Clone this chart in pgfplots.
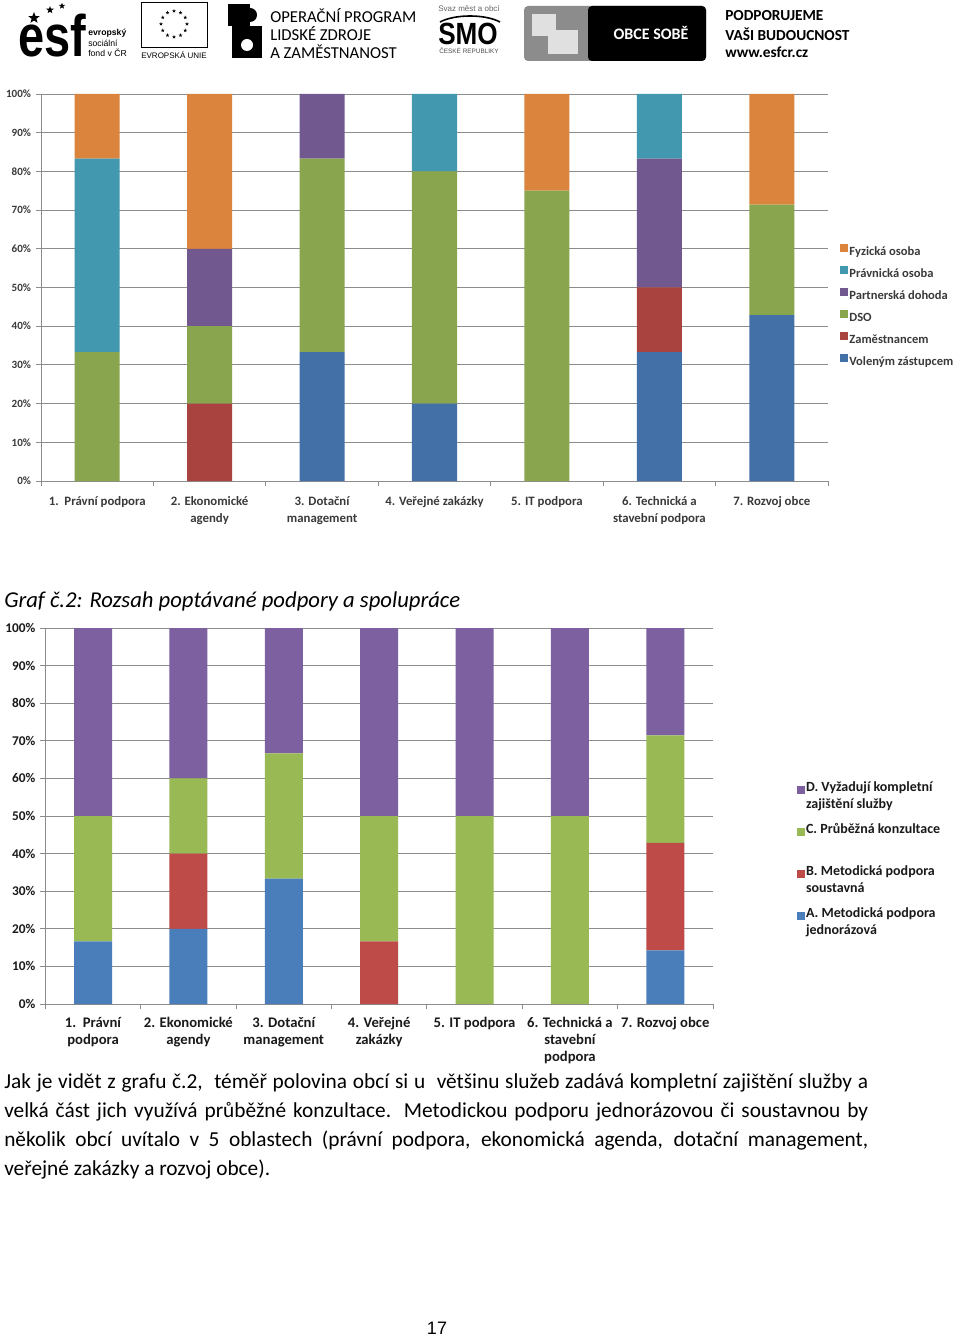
\documentclass[border=0pt]{standalone}
\usepackage{pgfplots}
\pgfplotsset{compat=1.18}
\usepackage{pgfplotstable}
\usetikzlibrary{shapes.geometric}
\usepackage{fontspec}
\setmainfont{Carlito}
\newfontfamily\arial{Liberation Sans}
\definecolor{aBlue}{HTML}{4470A8}
\definecolor{aRed}{HTML}{A9433F}
\definecolor{aGreen}{HTML}{89A54E}
\definecolor{aPurple}{HTML}{71588F}
\definecolor{aTeal}{HTML}{4198AF}
\definecolor{aOrange}{HTML}{DB843D}
\definecolor{bBlue}{HTML}{4A7EBB}
\definecolor{bRed}{HTML}{BE4B48}
\definecolor{bGreen}{HTML}{98B954}
\definecolor{bPurple}{HTML}{7D60A0}
\definecolor{gridgray}{HTML}{8C8C8C}
\definecolor{labA}{HTML}{3A3A3A}
\definecolor{labB}{HTML}{1A1A1A}

\pgfplotstableread{
x vol zam dso part prav fyz
0 0 0 33.33 0 50 16.67
1 0 20 20 20 0 40
2 33.33 0 50 16.67 0 0
3 20 0 60 0 20 0
4 0 0 75 0 0 25
5 33.33 16.67 0 33.33 16.67 0
6 42.86 0 28.57 0 0 28.57
}\dataA

\pgfplotstableread{
x a b c d
0 16.67 0 33.33 50
1 20 20 20 40
2 33.33 0 33.33 33.34
3 0 16.67 33.33 50
4 0 0 50 50
5 0 0 50 50
6 14.29 28.57 28.57 28.57
}\dataB

\begin{document}
\begin{tikzpicture}
\path[use as bounding box] (0,0) rectangle (720pt,-1002.75pt);
\fill[white] (0,0) rectangle (720pt,-1002.75pt);

% ---------------- header (logos) ----------------
\begin{scope}[x=0.75pt,y=-0.75pt]
  % esf
  \node[anchor=base west, inner sep=0pt] at (18,57) {\scalebox{0.8}[1]{\arial\bfseries\fontsize{44}{44}\selectfont esf}};
  \node[star, star points=5, star point ratio=2.4, fill=black, inner sep=0pt, minimum size=9pt] at (34,18) {};
  \node[star, star points=5, star point ratio=2.4, fill=black, inner sep=0pt, minimum size=6pt] at (50,10) {};
  \node[star, star points=5, star point ratio=2.4, fill=black, inner sep=0pt, minimum size=5pt] at (62,6) {};
  \node[anchor=west, inner sep=0pt, font=\arial\bfseries\fontsize{6.5}{7}\selectfont] at (88,33) {evropský};
  \node[anchor=west, inner sep=0pt, font=\arial\fontsize{6.5}{7}\selectfont] at (88,43) {sociální};
  \node[anchor=west, inner sep=0pt, font=\arial\fontsize{6.5}{7}\selectfont] at (88,53) {fond v ČR};
  % EU
  \draw[line width=0.6pt] (141,2) rectangle (207,47);
  \foreach \a in {0,30,...,330}
    \node[star, star points=5, star point ratio=2.4, fill=black, inner sep=0pt, minimum size=3pt] at ({174+13*cos(\a)},{24+13*sin(\a)}) {};
  \node[inner sep=0pt, font=\arial\fontsize{6}{6}\selectfont] at (174,55) {EVROPSKÁ UNIE};
  % OP LZZ
  \fill[black] (228,4) rectangle (250,26);
  \fill[black] (232,26) rectangle (262,58);
  \fill[white] (247,45) circle (6);
  \fill[black] (250,15) circle (7);
  \node[anchor=west, inner sep=0pt, font=\fontsize{12.5}{13}\selectfont] at (270,16) {OPERAČNÍ PROGRAM};
  \node[anchor=west, inner sep=0pt, font=\fontsize{12.5}{13}\selectfont] at (270,34) {LIDSKÉ ZDROJE};
  \node[anchor=west, inner sep=0pt, font=\fontsize{12.5}{13}\selectfont] at (270,52) {A ZAMĚSTNANOST};
  % SMO
  \node[inner sep=0pt, text=black!60, font=\arial\fontsize{6}{6}\selectfont] at (469,9) {Svaz měst a obcí};
  \draw[line width=1.2pt] (440,22) .. controls (455,14) and (485,14) .. (500,22);
  \node[inner sep=0pt] at (468,34) {\scalebox{0.85}[1]{\arial\bfseries\fontsize{23}{23}\selectfont SMO}};
  \node[inner sep=0pt, text=black!70, font=\arial\fontsize{4.8}{5}\selectfont] at (469,51) {ČESKÉ REPUBLIKY};
  % OBCE SOBE
  \fill[black!45, rounded corners=3pt] (524,6) rectangle (706,61);
  \fill[black!12] (532,14) rectangle (556,36);
  \fill[black!12] (548,30) rectangle (578,54);
  \fill[black, rounded corners=3pt] (588,6) rectangle (706,61);
  \node[inner sep=0pt, text=white, font=\bfseries\fontsize{12}{12}\selectfont] at (651,33) {OBCE SOBĚ};
  % right text
  \node[anchor=west, inner sep=0pt, font=\bfseries\fontsize{11.5}{12}\selectfont] at (725,16) {PODPORUJEME};
  \node[anchor=west, inner sep=0pt, font=\bfseries\fontsize{11.5}{12}\selectfont] at (725,34) {VAŠI BUDOUCNOST};
  \node[anchor=west, inner sep=0pt, font=\bfseries\fontsize{11.5}{12}\selectfont] at (725,52) {www.esfcr.cz};

  % caption
  \node[anchor=west, inner sep=0pt, font=\itshape\fontsize{17}{20}\selectfont] at (4,601) {Graf č.2: Rozsah poptávané podpory a spolupráce};
  % paragraph
  \node[anchor=north west, inner sep=0pt, text width=648pt, align=justify,
        font=\fontsize{16}{21.75}\selectfont] at (4,1073)
   {\hyphenpenalty10000 Jak je vidět z grafu č.2,\ \ téměř polovina obcí si u\ \ většinu služeb zadává kompletní zajištění služby a\linebreak
    velká část jich využívá průběžné konzultace. Metodickou podporu jednorázovou či soustavnou by\linebreak
    několik obcí uvítalo v~5 oblastech (právní podpora, ekonomická agenda, dotační management,\linebreak
    veřejné zakázky a rozvoj obce).};
  % page number
  \node[inner sep=0pt, font=\arial\fontsize{13.5}{14}\selectfont] at (437,1328) {17};
\end{scope}

% ---------------- chart 1 ----------------
\begin{axis}[
  at={(30.75pt,-360.75pt)}, anchor=south west,
  scale only axis, width=590.25pt, height=290.25pt,
  ybar stacked, bar width=33.75pt,
  xmin=-0.5, xmax=6.5, ymin=0, ymax=100,
  axis x line*=bottom, axis y line*=left,
  axis line style={gridgray, line width=0.7pt, -},
  ymajorgrids, grid style={gridgray, line width=0.7pt},
  ytick={0,10,...,100},
  yticklabels={0\%,10\%,20\%,30\%,40\%,50\%,60\%,70\%,80\%,90\%,100\%},
  xtick={-0.5,0.5,...,6.5},
  xticklabels={},
  extra x ticks={0,1,2,3,4,5,6},
  extra x tick labels={{1.\ \ Právní podpora},{2. Ekonomické\\agendy},{3. Dotační\\management},{4. Veřejné zakázky},{5. IT podpora},{6. Technická a\\stavební podpora},{7. Rozvoj obce}},
  extra x tick style={major tick length=0pt},
  tick align=outside,
  major tick length=4pt,
  tick style={gridgray, line width=0.7pt},
  xticklabel style={font=\bfseries\fontsize{9.6}{12.75}\selectfont, text=labA, align=center, anchor=north, yshift=-8pt},
  yticklabel style={font=\bfseries\fontsize{8.3}{10}\selectfont, text=labA},
  legend style={at={(1.015,0.613)}, anchor=north west, draw=none, fill=none, inner sep=0pt,
    row sep=4.15pt, font=\bfseries\fontsize{9.4}{10}\selectfont, text=labA,
    nodes={inner sep=1pt, text height=6.5pt, text depth=2.5pt}},
  legend cell align=left, reverse legend,
  legend image code/.code={\fill[#1] (0pt,0.8pt) rectangle (6pt,6.8pt);},
]
\addplot[fill=aBlue, draw=none] table[x=x, y=vol] {\dataA};
\addlegendentry{Voleným zástupcem}
\addplot[fill=aRed, draw=none] table[x=x, y=zam] {\dataA};
\addlegendentry{Zaměstnancem}
\addplot[fill=aGreen, draw=none] table[x=x, y=dso] {\dataA};
\addlegendentry{DSO}
\addplot[fill=aPurple, draw=none] table[x=x, y=part] {\dataA};
\addlegendentry{Partnerská dohoda}
\addplot[fill=aTeal, draw=none] table[x=x, y=prav] {\dataA};
\addlegendentry{Právnická osoba}
\addplot[fill=aOrange, draw=none] table[x=x, y=fyz] {\dataA};
\addlegendentry{Fyzická osoba}
\end{axis}

% ---------------- chart 2 ----------------
\begin{axis}[
  at={(34pt,-753pt)}, anchor=south west,
  scale only axis, width=500.75pt, height=282pt,
  ybar stacked, bar width=28.5pt,
  xmin=-0.5, xmax=6.5, ymin=0, ymax=100,
  axis x line*=bottom, axis y line*=left,
  axis line style={gridgray, line width=0.7pt, -},
  ymajorgrids, grid style={gridgray, line width=0.7pt},
  ytick={0,10,...,100},
  yticklabels={0\%,10\%,20\%,30\%,40\%,50\%,60\%,70\%,80\%,90\%,100\%},
  xtick={-0.5,0.5,...,6.5},
  xticklabels={},
  extra x ticks={0,1,2,3,4,5,6},
  extra x tick labels={{1.\ \ Právní\\podpora},{2. Ekonomické\\agendy},{3. Dotační\\management},{4. Veřejné\\zakázky},{5. IT podpora},{6. Technická a\\stavební\\podpora},{7. Rozvoj obce}},
  extra x tick style={major tick length=0pt},
  tick align=outside,
  major tick length=4pt,
  tick style={gridgray, line width=0.7pt},
  xticklabel style={font=\bfseries\fontsize{11}{12.75}\selectfont, text=labB, align=center, anchor=north, yshift=-6.5pt},
  yticklabel style={font=\bfseries\fontsize{10}{12}\selectfont, text=labB},
  legend style={at={(1.125,0.602)}, anchor=north west, draw=none, fill=none, inner sep=0pt,
    row sep=4pt, font=\bfseries\fontsize{10.5}{12.75}\selectfont, text=labB,
    nodes={inner sep=1pt, text height=8.9pt, text depth=16.6pt}},
  legend cell align=left, reverse legend,
  legend image code/.code={\fill[#1] (0pt,1.4pt) rectangle (6pt,7.4pt);},
]
\addplot[fill=bBlue, draw=none] table[x=x, y=a] {\dataB};
\addlegendentry{\begin{tabular}[t]{@{}l@{}}A. Metodická podpora\\jednorázová\end{tabular}}
\addplot[fill=bRed, draw=none] table[x=x, y=b] {\dataB};
\addlegendentry{\begin{tabular}[t]{@{}l@{}}B. Metodická podpora\\soustavná\end{tabular}}
\addplot[fill=bGreen, draw=none] table[x=x, y=c] {\dataB};
\addlegendentry{\begin{tabular}[t]{@{}l@{}}C. Průběžná konzultace\\\mbox{}\end{tabular}}
\addplot[fill=bPurple, draw=none] table[x=x, y=d] {\dataB};
\addlegendentry{\begin{tabular}[t]{@{}l@{}}D. Vyžadují kompletní\\zajištění služby\end{tabular}}
\end{axis}
\end{tikzpicture}
\end{document}
